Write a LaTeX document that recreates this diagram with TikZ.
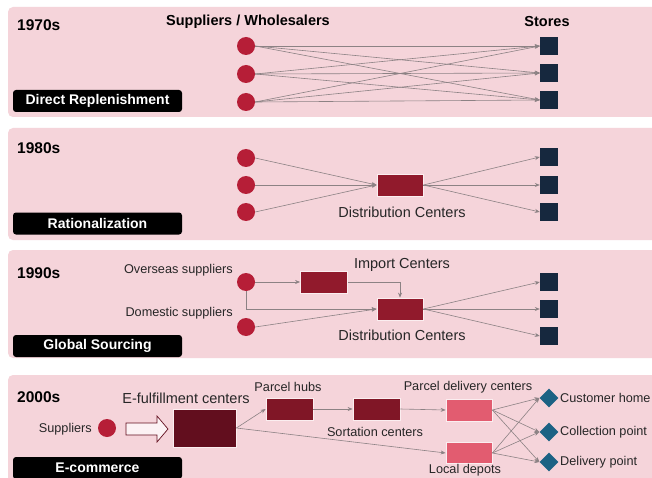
\documentclass[tikz,border=0pt]{standalone}
\usepackage{fontspec}
\setmainfont{Liberation Sans}
\usetikzlibrary{shapes.geometric,arrows.meta}
\definecolor{panel}{RGB}{245,212,218}
\definecolor{sup}{RGB}{182,30,55}
\definecolor{dcred}{RGB}{145,26,44}
\definecolor{hubred}{RGB}{128,22,38}
\definecolor{efred}{RGB}{98,14,30}
\definecolor{store}{RGB}{22,40,62}
\definecolor{dest}{RGB}{28,98,132}
\definecolor{pdc}{RGB}{226,92,112}
\definecolor{conn}{RGB}{140,130,132}
\begin{document}
\begin{tikzpicture}[x=1pt,y=-1pt,
  panelbg/.style={fill=panel, rounded corners=5pt},
  supnode/.style={circle, fill=sup, minimum size=18pt, inner sep=0pt},
  storenode/.style={rectangle, fill=store, minimum size=18pt, inner sep=0pt},
  destnode/.style={diamond, fill=dest, minimum size=19pt, inner sep=0pt},
  centerbox/.style={rectangle, fill=dcred, draw=white!60!panel, line width=0.8pt, minimum width=46pt, minimum height=22pt, inner sep=0pt},
  yearlbl/.style={font=\bfseries\fontsize{15.5}{17}\selectfont, anchor=west, inner sep=0pt},
  headlbl/.style={font=\bfseries\fontsize{14.5}{17}\selectfont, inner sep=0pt},
  biglbl/.style={font=\fontsize{14.5}{17}\selectfont, inner sep=0pt, text=black!85},
  smalllbl/.style={font=\fontsize{12.7}{15}\selectfont, inner sep=0pt, text=black!85},
  phase/.style={fill=black, rounded corners=3pt, text=white, font=\bfseries\fontsize{14}{16}\selectfont, minimum width=169pt, minimum height=22pt, inner sep=0pt},
  link/.style={draw=conn, line width=0.6pt, -{Stealth[length=5pt,width=4pt]}},
  hollow/.style={draw=efred, fill=white!70!panel, line width=0.7pt}
]
\clip (0,0) rectangle (652,478);
\fill[white] (0,0) rectangle (652,478);

% panels
\fill[panelbg] (8,7) rectangle (665,117);
\fill[panelbg] (8,128) rectangle (665,240);
\fill[panelbg] (8,250) rectangle (665,358);
\fill[panelbg] (8,375) rectangle (665,495);

% ---------- 1970s ----------
\node[yearlbl] (y70) at (17,25) {1970s};
\node[headlbl] (hsup) at (248,22) {Suppliers / Wholesalers};
\node[headlbl] (hsto) at (547,22) {Stores};
\node[phase] (p70) at (97.5,101) {Direct Replenishment};
\foreach \i/\y in {1/46,2/74,3/102} {
  \node[supnode] (a\i) at (246,\y) {};
}
\foreach \i/\y in {1/46,2/73,3/100} {
  \node[storenode] (s\i) at (549,\y) {};
}
\foreach \i in {1,2,3} {
  \foreach \j in {1,2,3} {
    \draw[link] (a\i.east) -- (s\j.west);
  }
}

% ---------- 1980s ----------
\node[yearlbl] (y80) at (17,148) {1980s};
\node[phase] (p80) at (97.5,223.5) {Rationalization};
\foreach \i/\y in {1/158,2/185,3/212} {
  \node[supnode] (b\i) at (246,\y) {};
}
\node[centerbox] (dc80) at (400,185) {};
\node[biglbl] (dc80l) at (402,212) {Distribution Centers};
\foreach \i/\y in {1/157,2/185,3/212} {
  \node[storenode] (t\i) at (549,\y) {};
}
\foreach \i in {1,2,3} {
  \draw[link] (b\i.east) -- (dc80.west);
  \draw[link] (dc80.east) -- (t\i.west);
}

% ---------- 1990s ----------
\node[yearlbl] (y90) at (17,273) {1990s};
\node[phase] (p90) at (97.5,346) {Global Sourcing};
\node[smalllbl, anchor=east] (ovl) at (233,270) {Overseas suppliers};
\node[smalllbl, anchor=east] (dol) at (233,313) {Domestic suppliers};
\node[supnode] (ov) at (246,282) {};
\node[supnode] (do) at (246,327) {};
\node[centerbox, minimum width=47pt] (imp) at (324,282) {};
\node[biglbl] (impl) at (402,265) {Import Centers};
\node[centerbox] (dc90) at (400,309) {};
\node[biglbl] (dc90l) at (402,335) {Distribution Centers};
\foreach \i/\y in {1/282,2/309,3/336} {
  \node[storenode] (u\i) at (549,\y) {};
}
\draw[link] (ov.east) -- (imp.west);
\draw[link] (ov.south) |- (dc90.west);
\draw[link] (do.east) -- (dc90.west);
\draw[link] (imp.east) -| (dc90.north);
\foreach \i in {1,2,3} {
  \draw[link] (dc90.east) -- (u\i.west);
}

% ---------- 2000s ----------
\node[yearlbl] (y00) at (17,397) {2000s};
\node[phase] (p00) at (97.5,468) {E-commerce};
\node[smalllbl, anchor=east] (supl) at (92,429) {Suppliers};
\node[supnode] (sp) at (107,428) {};
\draw[hollow] (126,423) -- (157,423) -- (157,416) -- (168,429) -- (157,442) -- (157,435) -- (126,435) -- cycle;
\node[centerbox, fill=efred, minimum width=63pt, minimum height=38pt] (ef) at (204.5,428) {};
\node[biglbl] (efl) at (186,398) {E-fulfillment centers};
\node[centerbox, fill=hubred, minimum width=47pt] (ph) at (289.5,409) {};
\node[smalllbl] (phl) at (288,387) {Parcel hubs};
\node[centerbox, fill=hubred, minimum width=47pt] (sc) at (376.5,409) {};
\node[smalllbl] (scl) at (375,432) {Sortation centers};
\node[centerbox, fill=pdc, minimum width=46pt] (pd) at (469,410) {};
\node[smalllbl] (pdl) at (468,387) {Parcel delivery centers};
\node[centerbox, fill=pdc, minimum width=46pt, minimum height=21pt] (ld) at (469,453) {};
\node[smalllbl] (ldl) at (465,470) {Local depots};
\foreach \i/\y/\t in {1/398/Customer home,2/432/Collection point,3/462/Delivery point} {
  \node[destnode] (d\i) at (549,\y) {};
  \node[smalllbl, anchor=west] (dl\i) at (560,\y) {\t};
}
\draw[link] (ef.east) -- (ph.west);
\draw[link] (ef.east) -- (ld.west);
\draw[link] (ph.east) -- (sc.west);
\draw[link] (sc.east) -- (pd.west);
\foreach \i in {1,2,3} {
  \draw[link] (pd.east) -- (d\i.west);
  \draw[link] (ld.east) -- (d\i.west);
}
\end{tikzpicture}
\end{document}
